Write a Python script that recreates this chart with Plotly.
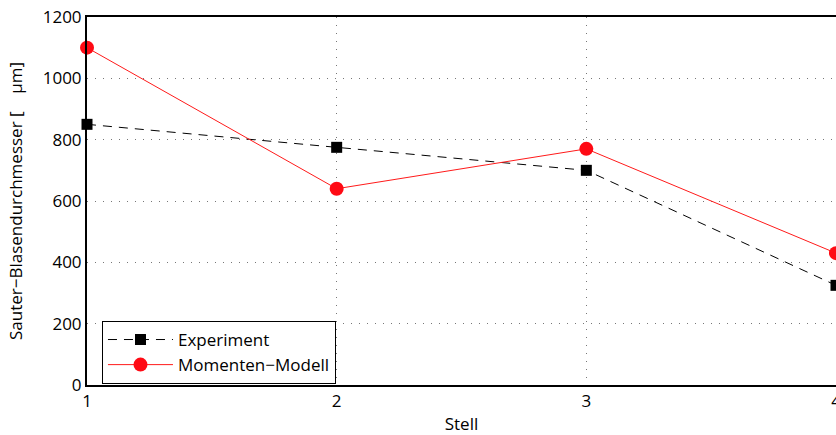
import plotly.graph_objects as go

stellen = [1, 2, 3, 4]
experiment = [850, 775, 700, 325]
modell = [1100, 640, 770, 430]
y_ticks = [0, 200, 400, 600, 800, 1000, 1200]
x_ticks = [1, 2, 3, 4]

fig = go.Figure()
fig.add_trace(go.Scatter(
    x=stellen, y=experiment, mode="lines+markers", name="Experiment",
    line=dict(color="black", width=1, dash="9px,7px"),
    marker=dict(symbol="square", size=11, color="black"),
    cliponaxis=False,
))
fig.add_trace(go.Scatter(
    x=stellen, y=modell, mode="lines+markers", name="Momenten\u2212Modell",
    line=dict(color="#ff1a1a", width=1),
    marker=dict(symbol="circle", size=14, color="#ff0a14"),
    cliponaxis=False,
))

font = "Open Sans, Lato, sans-serif"
fig.update_layout(
    width=836, height=435,
    margin=dict(l=87, r=0, t=17, b=50, autoexpand=False),
    plot_bgcolor="white", paper_bgcolor="white",
    font=dict(family=font, size=17, color="black"),
    showlegend=True,
    legend=dict(
        x=0.02, y=0.174, xanchor="left", yanchor="top",
        bgcolor="white", bordercolor="black", borderwidth=1,
        font=dict(size=17), tracegroupgap=0, itemwidth=65,
    ),
    xaxis=dict(
        range=[1, 4], tickvals=x_ticks, ticktext=[str(v) for v in x_ticks],
        showgrid=True, gridcolor="#777", griddash="1px,7px", gridwidth=1,
        showline=True, linecolor="black", linewidth=2, mirror=True,
        zeroline=False, ticks="", tickfont=dict(size=17), automargin=False,
        ticklabeloverflow="allow",
        title=dict(text="Stell", font=dict(size=17), standoff=8),
    ),
    yaxis=dict(
        range=[0, 1200], tickvals=y_ticks, ticktext=[str(v) for v in y_ticks],
        showgrid=True, gridcolor="#777", griddash="1px,7px", gridwidth=1,
        showline=True, linecolor="black", linewidth=2, mirror=True,
        zeroline=False, ticks="", tickfont=dict(size=17), automargin=False,
        ticklabeloverflow="allow",
        title=dict(text="Sauter\u2212Blasendurchmesser [    \u00b5m]", font=dict(size=17), standoff=16),
    ),
)

# remove the default 8px page margin so the figure fills the window exactly
fig.write_html(
    "out.html",
    config={"displayModeBar": False},
    post_script="document.body.style.margin='0';document.body.style.overflow='hidden';",
)
